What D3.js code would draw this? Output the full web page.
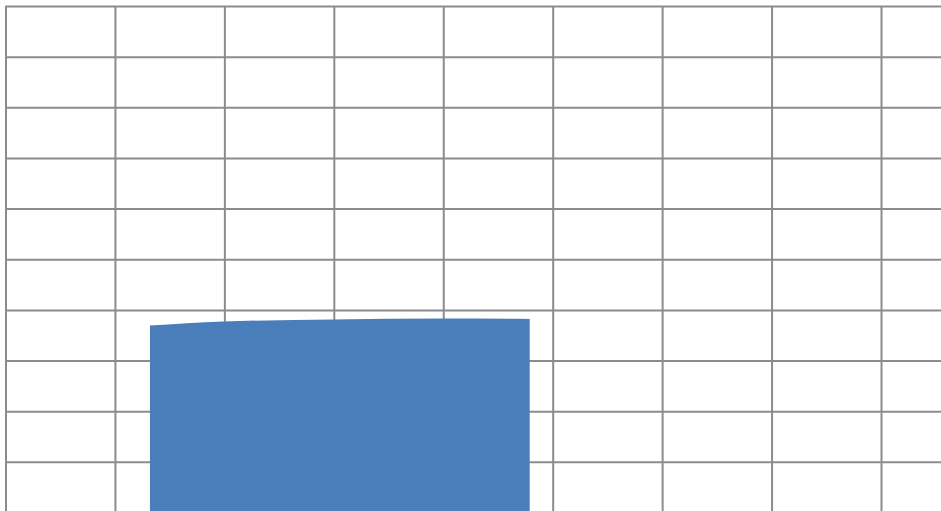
<!DOCTYPE html>
<html>
<head>
<meta charset="utf-8">
<script src="https://cdn.jsdelivr.net/npm/d3@7"></script>
<style>
  body { margin: 0; background: #fff; }
  svg { display: block; }
</style>
</head>
<body>
<svg width="941" height="511"></svg>
<script>
// area outline (x in grid columns, y in grid units)
var areaX = [1.32, 1.99, 2.99, 4.0, 4.79];
var areaY = [36.9, 37.7, 38.1, 38.3, 38.2];
var xTicks = d3.range(0, 9);
var yTicks = d3.range(0, 110, 10);

var svg = d3.select("svg"),
    x0 = 5.5, x1 = 881, y0 = 512.5, y1 = 6;

var x = d3.scaleLinear()
    .domain([0, 8])
    .range([x0, x1]);

var y = d3.scaleLinear()
    .domain([0, 100])
    .range([y0, y1]);

var g = svg.append("g");

// vertical grid
g.append("g")
    .attr("transform", "translate(0," + y0 + ")")
    .call(d3.axisBottom(x).tickValues(xTicks).tickSize(-(y0 - y1)).tickFormat(""))
    .call(function(a) { a.select(".domain").remove(); })
    .selectAll("line")
      .attr("stroke", "#8c8c8c")
      .attr("stroke-width", 2);

// horizontal grid, running off the right edge
g.append("g")
    .attr("transform", "translate(" + x0 + ",0)")
    .call(d3.axisLeft(y).tickValues(yTicks).tickSize(-(941 - x0)).tickFormat(""))
    .call(function(a) { a.select(".domain").remove(); })
    .selectAll("line")
      .attr("stroke", "#8c8c8c")
      .attr("stroke-width", 2);

var data = areaX.map(function(d, i) { return {x: d, y: areaY[i]}; });

var area = d3.area()
    .x(function(d) { return x(d.x); })
    .y0(y(-2))
    .y1(function(d) { return y(d.y); })
    .curve(d3.curveMonotoneX);

g.append("path")
    .datum(data)
    .attr("fill", "#4a7ebb")
    .attr("d", area);
</script>
</body>
</html>
